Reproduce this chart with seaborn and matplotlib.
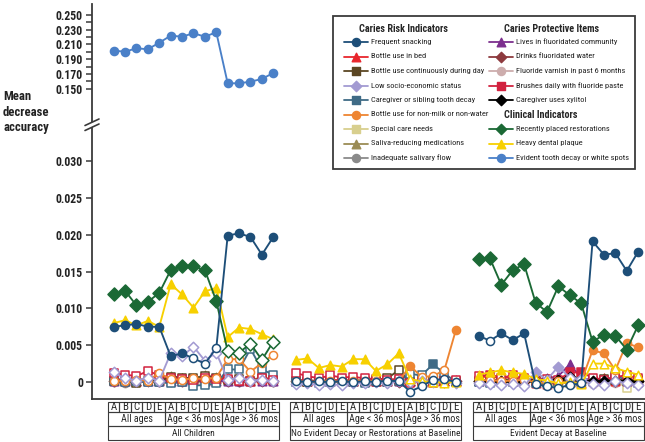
import numpy as np
import pandas as pd
import seaborn as sns
import matplotlib.pyplot as plt
from matplotlib import font_manager as fm
from matplotlib.patches import Rectangle, Polygon

letters = ["A", "B", "C", "D", "E"]
subgroups = ["All ages", "Age < 36 mos", "Age > 36 mos"]
groups = ["All Children", "No Evident Decay or Restorations at Baseline", "Evident Decay at Baseline"]

N = None
# 15 values per group: All Children | No Evident Decay | Evident Decay
snacking = [0.0075, 0.0077, 0.0079, 0.0075, 0.0075, 0.0035, 0.0039, 0.0032, 0.0025, 0.0046, 0.0199, 0.0202, 0.0197, 0.0173, 0.0197,
            0.0001, 0.0000, 0.0001, 0.0000, 0.0001, 0.0000, 0.0001, 0.0000, 0.0002, 0.0001, -0.0013, -0.0006, 0.0003, 0.0004, 0.0000,
            0.0063, 0.0056, 0.0066, 0.0057, 0.0066, -0.0003, -0.0006, -0.0008, -0.0004, -0.0002, 0.0191, 0.0173, 0.0175, 0.0151, 0.0177]
bed = [0.0004, 0.0003, 0.0002, 0.0005, 0.0003, 0.0006, 0.0005, 0.0004, 0.0003, 0.0004, 0.0006, 0.0003, 0.0002, 0.0004, 0.0005,
       0.0003, 0.0002, 0.0001, 0.0003, 0.0002, 0.0002, 0.0001, 0.0002, 0.0001, 0.0003, 0.0001, 0.0000, 0.0002, 0.0001, 0.0002,
       0.0006, 0.0008, 0.0005, 0.0007, 0.0004, -0.0002, -0.0003, -0.0001, 0.0000, -0.0002, 0.0003, 0.0005, 0.0002, 0.0004, 0.0003]
continuous = [0.0002, 0.0001, -0.0001, 0.0002, 0.0001, 0.0007, 0.0006, 0.0005, 0.0008, 0.0006, 0.0003, 0.0004, 0.0002, 0.0005, 0.0003,
              0.0001, 0.0000, 0.0002, 0.0001, 0.0001, 0.0002, 0.0001, 0.0003, 0.0005, 0.0016, 0.0000, 0.0001, 0.0002, 0.0001, 0.0001,
              0.0002, 0.0001, 0.0003, 0.0002, 0.0001, 0.0001, 0.0003, 0.0002, 0.0004, 0.0002, 0.0001, 0.0004, 0.0003, 0.0002, 0.0003]
ses = [0.0013, 0.0005, 0.0002, 0.0006, 0.0002, 0.0039, 0.0035, 0.0048, 0.0029, 0.0040, 0.0003, 0.0006, 0.0002, 0.0003, 0.0001,
       -0.0003, -0.0002, -0.0004, -0.0003, -0.0004, -0.0001, -0.0002, 0.0000, -0.0001, 0.0001, 0.0000, 0.0001, 0.0000, 0.0003, -0.0001,
       -0.0002, -0.0003, -0.0004, -0.0003, -0.0006, 0.0014, 0.0003, 0.0021, 0.0006, 0.0004, -0.0003, -0.0004, 0.0002, -0.0002, -0.0004]
caregiver = [0.0001, 0.0000, 0.0001, 0.0000, 0.0000, -0.0002, 0.0000, -0.0005, -0.0004, -0.0002, 0.0017, 0.0017, 0.0045, 0.0017, 0.0010,
             0.0000, 0.0001, -0.0001, 0.0000, 0.0001, 0.0000, -0.0001, 0.0001, 0.0000, 0.0001, 0.0011, 0.0009, 0.0024, 0.0012, 0.0000,
             0.0000, -0.0001, 0.0001, 0.0000, 0.0001, -0.0001, -0.0002, 0.0000, -0.0001, 0.0000, 0.0001, 0.0002, 0.0008, 0.0003, -0.0002]
nonmilk = [0.0002, 0.0001, 0.0003, 0.0002, 0.0012, 0.0004, 0.0003, 0.0005, 0.0004, 0.0006, 0.0031, 0.0031, 0.0014, 0.0026, 0.0037,
           0.0001, 0.0000, 0.0001, 0.0002, 0.0000, 0.0001, 0.0002, 0.0001, 0.0000, 0.0001, 0.0022, 0.0007, 0.0008, 0.0016, 0.0070,
           0.0002, 0.0003, 0.0001, 0.0002, 0.0003, 0.0000, -0.0001, 0.0001, -0.0002, 0.0000, 0.0043, 0.0039, 0.0016, 0.0053, 0.0047]
special = [0.0001, 0.0002, 0.0000, 0.0001, 0.0002, 0.0003, 0.0002, 0.0004, 0.0003, 0.0002, 0.0001, 0.0002, 0.0001, 0.0003, 0.0002,
           0.0001, 0.0000, 0.0001, 0.0000, 0.0002, 0.0001, 0.0000, 0.0001, 0.0002, 0.0001, 0.0001, 0.0000, 0.0001, 0.0002, 0.0001,
           0.0001, 0.0002, 0.0001, 0.0000, 0.0002, 0.0001, 0.0000, 0.0001, 0.0002, 0.0001, 0.0001, 0.0003, 0.0002, -0.0008, 0.0001]
saliva = [0.0003, 0.0004, 0.0002, 0.0005, 0.0003, 0.0008, 0.0006, 0.0005, 0.0009, 0.0007, 0.0004, 0.0005, 0.0003, 0.0006, 0.0004,
          0.0002, 0.0003, 0.0001, 0.0002, 0.0003, 0.0002, 0.0003, 0.0002, 0.0004, 0.0003, 0.0002, 0.0001, 0.0003, 0.0002, 0.0001,
          0.0003, 0.0002, 0.0004, 0.0003, 0.0002, 0.0002, 0.0001, 0.0003, 0.0002, 0.0001, 0.0002, 0.0006, 0.0003, 0.0004, 0.0002]
salivary_flow = [0.0000, -0.0001, 0.0000, 0.0001, 0.0000, 0.0000, 0.0001, 0.0000, -0.0001, 0.0000, 0.0001, 0.0000, 0.0000, 0.0001, 0.0000,
                 0.0000, 0.0001, 0.0000, 0.0000, 0.0001, 0.0000, 0.0000, 0.0001, 0.0000, 0.0000, 0.0001, 0.0000, 0.0000, 0.0001, 0.0000,
                 0.0000, 0.0001, 0.0000, 0.0000, 0.0001, 0.0000, 0.0000, 0.0001, 0.0000, 0.0000, 0.0001, 0.0000, 0.0000, 0.0001, 0.0000]
community = [0.0002, 0.0001, 0.0002, 0.0001, 0.0002, 0.0002, 0.0001, 0.0003, 0.0002, 0.0001, 0.0002, 0.0001, 0.0002, 0.0001, 0.0002,
             0.0001, 0.0002, 0.0001, 0.0002, 0.0001, 0.0002, 0.0001, 0.0002, 0.0001, 0.0002, 0.0001, 0.0002, 0.0001, 0.0002, 0.0001,
             0.0002, 0.0003, 0.0002, 0.0001, 0.0002, 0.0004, 0.0005, 0.0008, 0.0024, 0.0006, 0.0002, 0.0001, 0.0003, 0.0002, 0.0001]
water = [0.0001, 0.0002, 0.0001, 0.0002, 0.0001, 0.0003, 0.0002, 0.0001, 0.0002, 0.0003, 0.0001, 0.0002, 0.0001, 0.0002, 0.0001,
         0.0001, 0.0000, 0.0001, 0.0002, 0.0001, 0.0000, 0.0001, 0.0002, 0.0001, 0.0000, 0.0001, 0.0002, 0.0001, 0.0000, 0.0001,
         0.0001, 0.0002, 0.0001, 0.0002, 0.0001, 0.0001, 0.0002, 0.0003, 0.0004, 0.0002, 0.0001, 0.0002, 0.0001, 0.0002, 0.0001]
varnish = [0.0000, 0.0001, 0.0000, 0.0001, 0.0000, 0.0001, 0.0000, 0.0001, 0.0000, 0.0001, 0.0000, 0.0001, 0.0000, 0.0001, 0.0000,
           0.0000, 0.0001, 0.0000, 0.0001, 0.0000, 0.0001, 0.0000, 0.0001, 0.0000, 0.0001, 0.0000, 0.0001, 0.0000, 0.0001, 0.0000,
           0.0000, 0.0001, 0.0000, 0.0001, 0.0000, 0.0001, 0.0000, 0.0001, 0.0000, 0.0001, -0.0003, 0.0000, -0.0002, 0.0001, 0.0000]
brushes = [0.0012, 0.0010, 0.0008, 0.0015, 0.0009, 0.0006, 0.0004, 0.0003, 0.0005, 0.0004, 0.0004, 0.0002, 0.0001, 0.0005, 0.0003,
           0.0012, 0.0008, 0.0005, 0.0009, 0.0006, 0.0007, 0.0005, 0.0004, 0.0003, 0.0004, -0.0002, 0.0001, -0.0001, 0.0002, 0.0003,
           0.0008, 0.0010, 0.0006, 0.0009, 0.0005, 0.0002, 0.0004, 0.0003, 0.0013, 0.0013, 0.0006, 0.0003, 0.0007, 0.0009, 0.0005]
xylitol = [N] * 30 + [0.0001, 0.0002, 0.0001, 0.0000, 0.0002, 0.0002, 0.0003, 0.0003, 0.0007, 0.0002, 0.0001, 0.0002, 0.0001, 0.0002, 0.0001]
restorations = [0.0119, 0.0124, 0.0104, 0.0109, 0.0121, 0.0152, 0.0158, 0.0157, 0.0152, 0.0110, 0.0042, 0.0040, 0.0052, 0.0030, 0.0055,
                N, N, N, N, N, N, N, N, N, N, N, N, N, N, N,
                0.0167, 0.0168, 0.0132, 0.0152, 0.0160, 0.0108, 0.0095, 0.0130, 0.0118, 0.0107, 0.0055, 0.0064, 0.0063, 0.0044, 0.0077]
plaque = [0.0080, 0.0084, 0.0077, 0.0083, 0.0075, 0.0133, 0.0119, 0.0101, 0.0123, 0.0128, 0.0061, 0.0074, 0.0072, 0.0065, 0.0058,
          0.0030, 0.0032, 0.0019, 0.0023, 0.0021, 0.0031, 0.0031, 0.0015, 0.0024, 0.0039, 0.0004, 0.0001, 0.0000, -0.0001, 0.0000,
          0.0010, 0.0013, 0.0016, 0.0013, 0.0011, 0.0004, 0.0002, -0.0002, 0.0000, -0.0003, 0.0025, 0.0025, 0.0019, 0.0014, 0.0010]
evident = [0.2016, 0.2002, 0.2048, 0.2035, 0.2124, 0.2219, 0.2206, 0.2252, 0.2206, 0.2265, 0.1573, 0.1573, 0.1595, 0.1632, 0.1713]

# indices of filled (solid) markers, all others drawn open
allidx = list(range(45))
series = [
    # name, values, color, marker, filled, section
    ("Frequent snacking", snacking, "#1d4e78", "o", [0, 1, 2, 3, 4, 5, 6, 10, 11, 12, 13, 14, 30, 32, 33, 34, 40, 41, 42, 43, 44], "risk"),
    ("Bottle use in bed", bed, "#e8262d", "^", [], "risk"),
    ("Bottle use continuously during day", continuous, "#5b4623", "s", [], "risk"),
    ("Low socio-economic status", ses, "#a39bd2", "D", [35, 37], "risk"),
    ("Caregiver or sibling tooth decay", caregiver, "#3f6b86", "s", [27], "risk"),
    ("Bottle use for non-milk or non-water", nonmilk, "#ee8532", "o", [25, 29, 40, 41, 43, 44], "risk"),
    ("Special care needs", special, "#d8cf8e", "s", [], "risk"),
    ("Saliva-reducing medications", saliva, "#9b8c55", "^", [], "risk"),
    ("Inadequate salivary flow", salivary_flow, "#8a8a8a", "o", [], "risk"),
    ("Lives in fluoridated community", community, "#7c2f8e", "^", [38], "prot"),
    ("Drinks fluoridated water", water, "#8d3a3e", "D", [], "prot"),
    ("Fluoride varnish in past 6 months", varnish, "#cdadad", "o", [], "prot"),
    ("Brushes daily with fluoride paste", brushes, "#d2223f", "s", [31, 38, 39], "prot"),
    ("Caregiver uses xylitol", xylitol, "#000000", "D", allidx, "prot"),
    ("Recently placed restorations", restorations, "#1b6935", "D", list(range(10)) + list(range(30, 45)), "clin"),
    ("Heavy dental plaque", plaque, "#f7d000", "^", list(range(25)) + list(range(30, 35)), "clin"),
    ("Evident tooth decay or white spots", evident + [N] * 30, "#4a80c8", "o", allidx, "clin"),
]
draw_order = [8, 7, 6, 11, 10, 9, 1, 2, 4, 12, 13, 5, 3, 15, 14, 0]
sizes = {"o": 34, "s": 30, "^": 38, "D": 28}

rows = []
for k, (name, vals, color, marker, filled, sec) in enumerate(series):
    for j, v in enumerate(vals):
        if v is None:
            continue
        g, i = divmod(j, 15)
        rows.append(dict(series=name, seg=g, x=16 * g + i, value=v, filled=j in filled))
df = pd.DataFrame(rows)

sns.set_style("white")

# the reference uses a narrow (Arial Narrow like) face; use one if installed
narrow = None
have = [(f.name, f.stretch) for f in fm.fontManager.ttflist]
for cand in ["Liberation Sans Narrow", "Roboto Condensed", "Open Sans Condensed", "Noto Sans Display"]:
    if any(n == cand for n, st in have):
        narrow = cand
        break
if narrow is None:
    for n, st in have:
        if st in ("condensed", "semi-condensed") and n in ("DejaVu Sans", "Roboto", "Open Sans", "Noto Sans", "Liberation Sans"):
            narrow = n
            break
if narrow:
    plt.rcParams["font.family"] = [narrow, "Liberation Sans", "DejaVu Sans"]
    plt.rcParams["font.stretch"] = "condensed"
    k_fs = 1.0
else:
    plt.rcParams["font.family"] = ["Liberation Sans", "DejaVu Sans"]
    k_fs = 0.8


def fs(size):
    return size * k_fs


edge = "#3a3a3a"
fig = plt.figure(figsize=(6.45, 4.42), dpi=100)
W, H = 645, 442
x0 = 92 / W
ax_top = fig.add_axes([x0, (H - 125) / H, 1 - x0, 121 / H])
ax = fig.add_axes([x0, (H - 399) / H, 1 - x0, 274 / H])
xlim = (-1.9, 46.6)


def draw(axis, k, z):
    name, vals, color, marker, filled, sec = series[k]
    sub = df[df.series == name]
    sns.lineplot(data=sub, x="x", y="value", units="seg", estimator=None, color=color,
                 lw=1.35, ax=axis, zorder=z)
    for is_filled, face in [(True, color), (False, "white")]:
        part = sub[sub.filled == is_filled]
        if len(part):
            s = 44 if name == "Recently placed restorations" else sizes[marker]
            sns.scatterplot(data=part, x="x", y="value", marker=marker, s=s, color=face,
                            edgecolor=color, linewidth=1.1, ax=axis, zorder=z + 0.5)


for z, k in enumerate(draw_order):
    draw(ax, k, 2 + z)
draw(ax_top, 16, 2)

for a in (ax, ax_top):
    a.set_xlim(*xlim)
    a.set_xticks([])
    a.set_xlabel("")
    a.set_ylabel("")
    for s in ("top", "right"):
        a.spines[s].set_visible(False)
    a.spines["left"].set_color(edge)
    a.spines["left"].set_linewidth(1.3)
    a.tick_params(axis="y", direction="out", length=4.5, width=1.1, color=edge, pad=2,
                  labelsize=fs(8.5), left=True)
ax_top.spines["bottom"].set_visible(False)
ax.spines["bottom"].set_color(edge)
ax.spines["bottom"].set_linewidth(1.3)

ax_top.set_ylim(0.1007, 0.2649)
ax_top.set_yticks(np.arange(0.150, 0.2501, 0.02))
ax_top.set_yticks(np.arange(0.160, 0.2401, 0.02), minor=True)
ax_top.tick_params(axis="y", which="minor", direction="out", length=4.5, width=1.1, color=edge, left=True)
ax_top.set_yticklabels([f"{t:.3f}" for t in np.arange(0.150, 0.2501, 0.02)])

ax.set_ylim(-0.00231, 0.03492)
yt = [0, 0.005, 0.010, 0.015, 0.020, 0.025, 0.030]
ax.set_yticks(yt)
ax.set_yticklabels(["0"] + [f"{t:.3f}" for t in yt[1:]])
for a in (ax, ax_top):
    for lab in a.get_yticklabels():
        lab.set_fontweight("bold")
        lab.set_color("#222222")

# category table under the x axis (y in figure pixels)
tax = fig.add_axes([x0, 0, 1 - x0, (H - 399) / H])
tax.set_xlim(*xlim)
tax.set_ylim(H, 399)
tax.axis("off")
for g, gname in enumerate(groups):
    base = 16 * g
    for i in range(15):
        tax.add_patch(Rectangle((base + i - 0.5, 402), 1, 10, fill=False, ec=edge, lw=0.8))
        tax.text(base + i, 407.5, letters[i % 5], ha="center", va="center", fontsize=fs(7.8))
    for s, sname in enumerate(subgroups):
        tax.add_patch(Rectangle((base + 5 * s - 0.5, 412), 5, 14, fill=False, ec=edge, lw=0.8))
        tax.text(base + 5 * s + 2, 419.5, sname, ha="center", va="center", fontsize=fs(7.2))
    tax.add_patch(Rectangle((base - 0.5, 426), 15, 14, fill=False, ec=edge, lw=0.8))
    tax.text(base + 7, 433.5, gname, ha="center", va="center", fontsize=fs(6.8))

# overlay in figure pixels: axis label, break marks, legend
ov = fig.add_axes([0, 0, 1, 1])
ov.set_xlim(0, W)
ov.set_ylim(H, 0)
ov.axis("off")
ov.text(3, 112, "Mean\ndecrease\naccuracy", ha="left", va="center", fontsize=fs(9.2),
        fontweight="bold", linespacing=1.3, color="#222222")
ov.add_patch(Polygon([(86, 125), (98, 119.5), (98, 124.5), (86, 130)], closed=True, fc="white", ec="none", zorder=5))
ov.plot([85, 99], [125.5, 119], color=edge, lw=1.2, zorder=6)
ov.plot([85, 99], [130.5, 124], color=edge, lw=1.2, zorder=6)

ov.add_patch(Rectangle((333, 16), 302, 153, fc="white", ec=edge, lw=1.3, zorder=5))
ov.text(359, 29, "Caries Risk Indicators", fontsize=fs(7.3), fontweight="bold", va="center", zorder=6)
ov.text(504, 29, "Caries Protective Items", fontsize=fs(7.3), fontweight="bold", va="center", zorder=6)
ov.text(504, 115, "Clinical Indicators", fontsize=fs(7.3), fontweight="bold", va="center", zorder=6)
slots = {"risk": [(344, 42 + 14.5 * r) for r in range(9)],
         "prot": [(489, 42 + 14.5 * r) for r in range(5)],
         "clin": [(489, 129 + 14.5 * r) for r in range(3)]}
used = {"risk": 0, "prot": 0, "clin": 0}
for name, vals, color, marker, filled, sec in series:
    lx, ly = slots[sec][used[sec]]
    used[sec] += 1
    ov.plot([lx, lx + 24], [ly, ly], color=color, lw=1.3, zorder=6)
    ov.scatter([lx + 12], [ly], marker=marker, s=sizes[marker], color=color, zorder=7)
    ov.text(lx + 27, ly, name, fontsize=fs(6.0), va="center", zorder=6, color="#222222")

fig.savefig("out.png", dpi=100)
